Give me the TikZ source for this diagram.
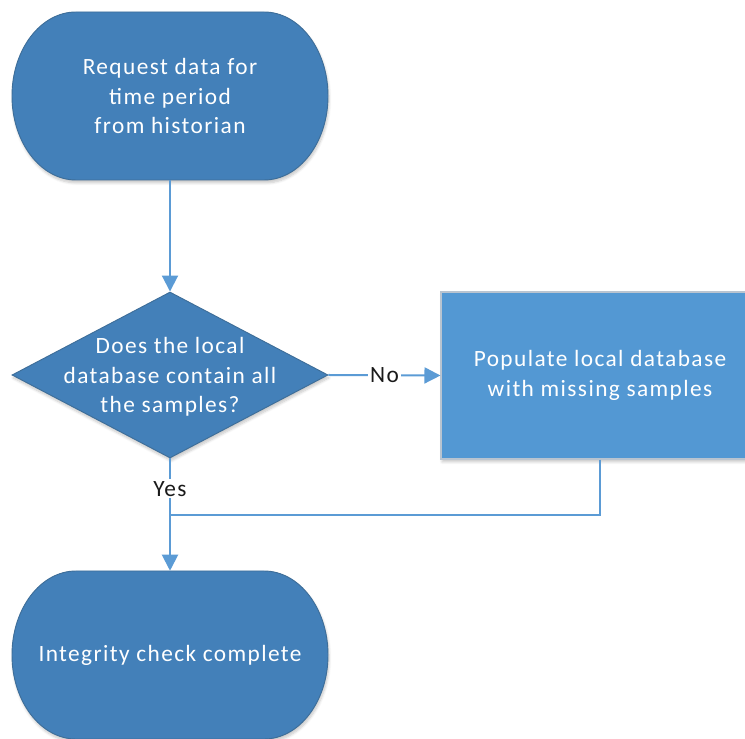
\documentclass[tikz,border=0pt]{standalone}
\usepackage{fontspec}
\setmainfont{Carlito}[LetterSpace=6]
\usetikzlibrary{arrows.meta,shapes.geometric,shadows.blur,calc}

\definecolor{darkfill}{RGB}{67,128,185}
\definecolor{lightfill}{RGB}{83,152,211}
\definecolor{edge}{RGB}{62,110,153}
\definecolor{boxedge}{RGB}{185,196,208}
\definecolor{flow}{RGB}{91,155,213}
\definecolor{labelink}{RGB}{26,26,26}

% Terminator: a box whose ends are half ellipses, drawn first, then its text node
\newcommand\flowterminal[3]{%
  \path[termshape] ($(#2)+(-94,84)$) -- ($(#2)+(94,84)$)
      arc[start angle=90,end angle=-90,x radius=48pt,y radius=63pt]
      -- ($(#2)+(-94,-84)$)
      arc[start angle=270,end angle=90,x radius=48pt,y radius=63pt] -- cycle;
  \node[termbox] (#1) at (#2) {#3};
}

\begin{document}
\begin{tikzpicture}[x=0.75pt,y=0.75pt,
  font=\fontsize{17.5pt}{22pt}\selectfont,
  softshadow/.style={blur shadow={shadow xshift=0.8pt,shadow yshift=-2.2pt,
      shadow opacity=22,shadow blur steps=6}},
  termbox/.style={rectangle,minimum width=237pt,minimum height=126pt,
      inner sep=0pt,text=white,align=center},
  termshape/.style={fill=darkfill,draw=edge,line width=0.7pt,softshadow},
  decision/.style={diamond,minimum width=237pt,minimum height=124.5pt,
      inner sep=0pt,fill=darkfill,draw=edge,line width=0.7pt,softshadow},
  decisiontext/.style={text=white,align=center,inner sep=0pt},
  process/.style={rectangle,minimum width=238.5pt,minimum height=125.25pt,
      inner sep=0pt,fill=lightfill,draw=boxedge,line width=0.8pt,
      text=white,align=center,softshadow},
  flowline/.style={draw=flow,line width=1.5pt},
  flowarrow/.style={flowline,-{Triangle[length=12pt,width=12pt]}},
  flowlabel/.style={fill=white,text=labelink,inner sep=1.5pt}
]
\useasboundingbox (0,0) rectangle (745,738);

% Start and end of the flow
\flowterminal{start}{170,642}{Request data for\\time period\\from historian}
\flowterminal{done}{170,83}{Integrity check complete}

% Decision
\node[decision] (q) at (170,363) {};
\node[decisiontext] (qtext) at (170,361) {Does the local\\database contain all\\the samples?};

% Repair step
\node[process] (pop) at (600,362.5) {Populate local database\\with missing samples};

% Join point of the two branches
\coordinate (merge) at (170,223);

% Connectors
\draw[flowarrow] (start.south) -- (q.north);
\draw[flowarrow] (q.east) -- node[flowlabel] (nolabel) {No} (pop.west);
\draw[flowarrow] (q.south) -- node[flowlabel,pos=0.27] (yeslabel) {Yes} (done.north);
\draw[flowline] (pop.south) |- (merge);
\end{tikzpicture}
\end{document}
